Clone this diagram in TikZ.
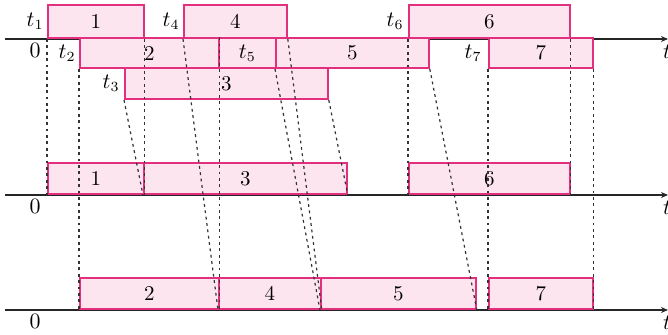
\documentclass[tikz,border=0pt]{standalone}
\usetikzlibrary{positioning,arrows.meta}

\definecolor{jobline}{RGB}{226,48,126}
\definecolor{jobfill}{RGB}{253,229,239}

\tikzset{
  job/.style={draw=jobline, fill=jobfill, line width=0.9pt, inner sep=0pt,
    minimum height=15.5pt, anchor=south west, font=\fontsize{10.5}{12}\selectfont},
  toprow/.style={minimum height=16.5pt},
  timeaxis/.style={draw=black!85, line width=0.6pt, -{Stealth[length=3.5pt,width=3pt]}},
  guide/.style={draw=black!80, line width=0.6pt, dash pattern=on 1.4pt off 1.8pt},
  lbl/.style={inner sep=1pt, font=\fontsize{10.5}{12}\selectfont}
}

\begin{document}
\begin{tikzpicture}[x=0.5pt,y=0.5pt]
            \useasboundingbox (0,0) rectangle (668,334);

            % Draw the three time axes
            \coordinate (o1) at (5,295);  \coordinate (e1) at (668,295);
            \coordinate (o2) at (5,139);  \coordinate (e2) at (668,139);
            \coordinate (o3) at (5,24);   \coordinate (e3) at (668,24);
            \draw[timeaxis] (o1) -- (e1);
            \draw[timeaxis] (o2) -- (e2);
            \draw[timeaxis] (o3) -- (e3);
            \node[lbl, anchor=north] (zero1) at (35,293) {$0$};
            \node[lbl, anchor=north] (zero2) at (35,137) {$0$};
            \node[lbl, anchor=north] (zero3) at (35,22) {$0$};
            \node[lbl, anchor=north] (tend1) at (667,291) {$t$};
            \node[lbl, anchor=north] (tend2) at (667,135) {$t$};
            \node[lbl, anchor=north] (tend3) at (667,20) {$t$};

            % Draw the jobs as they arrive
            \node[job, toprow, minimum width=48pt] (a1) at (47,295) {1};
            \node[job, toprow, minimum width=51.5pt] (a4) at (183,295) {4};
            \node[job, toprow, minimum width=80.5pt] (a6) at (408,295) {6};

            \node[job, minimum width=69.5pt, minimum height=15pt] (a2) at (79,265) {2};
            \node[job, minimum width=28.5pt, minimum height=15pt] (g5) at (218,265) {$t_5$};
            \node[job, minimum width=76.5pt, minimum height=15pt] (a5) at (275,265) {5};
            \node[job, minimum width=52pt, minimum height=15pt] (a7) at (488,265) {7};

            \node[job, minimum width=101.5pt] (a3) at (124,234) {3};

            \node[lbl, left=0.5pt of a1] (lt1) {$t_1$};
            \node[lbl, left=0.5pt of a2] (lt2) {$t_2$};
            \node[lbl, left=1pt of a3] (lt3) {$t_3$};
            \node[lbl, left=0.5pt of a4] (lt4) {$t_4$};
            \node[lbl, left=1pt of a6] (lt6) {$t_6$};
            \node[lbl, left=2pt of a7] (lt7) {$t_7$};

            % Draw the first schedule
            \node[job, minimum width=48pt] (b1) at (47,139) {1};
            \node[job, minimum width=101.5pt] (b3) at (143,139) {3};
            \node[job, minimum width=80.5pt] (b6) at (408,139) {6};

            % Draw the second schedule
            \node[job, minimum width=69.5pt] (c2) at (79,24) {2};
            \node[job, minimum width=51pt] (c4) at (218,24) {4};
            \node[job, minimum width=77.5pt] (c5) at (320,24) {5};
            \node[job, minimum width=52pt] (c7) at (488,24) {7};

            % Draw the guides from each job to its place
            \draw[guide] (a1.south west) -- (b1.south west);
            \draw[guide] (a1.south east) -- (b1.south east);
            \draw[guide] (a3.south west) -- (b3.south west);
            \draw[guide] (a3.south east) -- (b3.south east);
            \draw[guide] (a6.south west) -- (b6.south west);
            \draw[guide] (a6.south east) -- (b6.south east);

            \draw[guide] (a2.south west) -- (c2.south west);
            \draw[guide] (a2.north east) -- (c2.south east);
            \draw[guide] (a4.south west) -- (c4.south west);
            \draw[guide] (a4.south east) -- (c4.south east);
            \draw[guide] (a5.south west) -- (c5.south west);
            \draw[guide] (a5.south east) -- (c5.south east);
            \draw[guide] (a7.south west) -- (c7.south west);
            \draw[guide] (a7.south east) -- (c7.south east);

        \end{tikzpicture}
\end{document}
